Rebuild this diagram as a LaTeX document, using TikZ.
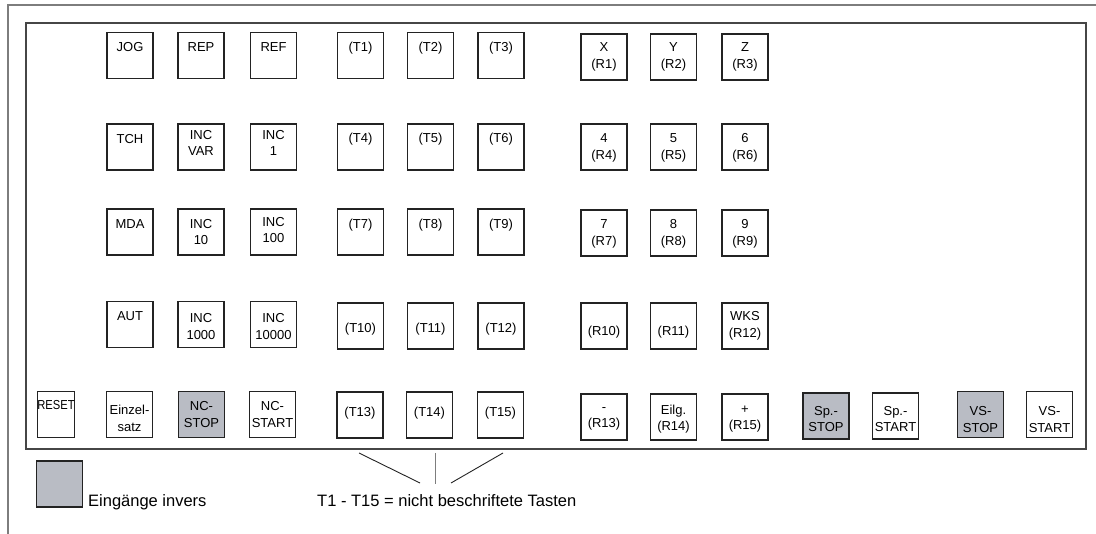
\documentclass[tikz,border=0pt]{standalone}
\usepackage{fontspec}
\setmainfont{Liberation Sans}
\usepackage{xcolor}
\usepackage{graphicx}

\definecolor{invgrau}{RGB}{185,188,196}
\definecolor{kante}{RGB}{35,35,35}
\definecolor{rahmen}{RGB}{70,70,70}
\definecolor{aussen}{RGB}{125,125,125}

\begin{document}
\begin{tikzpicture}[
  x=1pt, y=-1pt,
  taste/.style={rectangle, draw=kante, line width=1.8pt,
                minimum width=46pt, minimum height=46pt, inner sep=0pt},
  beschr/.style={inner sep=0pt, align=center,
                 font=\fontsize{13}{16.5}\selectfont},
  legende/.style={inner sep=0pt, font=\fontsize{16.5}{20}\selectfont},
  strich/.style={draw=kante, line width=0.9pt},
]
\useasboundingbox (0,0) rectangle (1096,534);

% Rahmen
\draw[aussen, line width=1.5pt] (8,534) -- (8,5) -- (1096,5);
\draw[rahmen, line width=1.3pt] (26,23) rectangle (1086,449);

% Tasten: Name/x/y/Text/Versatz/Fuellung
\foreach \n/\x/\y/\t/\d/\f in {
  jog/130/55.5/JOG/8/white, rep/201/55.5/REP/8/white, ref/273.5/55.5/REF/8/white,
  t1/360.5/55.5/(T1)/7/white, t2/430.5/55.5/(T2)/7/white, t3/501/55.5/(T3)/7/white,
  r1/604/57/{X\\(R1)}/0/white, r2/673.5/57/{Y\\(R2)}/0/white, r3/745/57/{Z\\(R3)}/0/white,
  tch/130/147/TCH/8/white, incvar/201/147/{INC\\VAR}/4/white, inc1/273.5/147/{INC\\1}/4/white,
  t4/360.5/147/(T4)/8/white, t5/430.5/147/(T5)/8/white, t6/501/147/(T6)/8/white,
  r4/604/147/{4\\(R4)}/-1/white, r5/673.5/147/{5\\(R5)}/-1/white, r6/745/147/{6\\(R6)}/-1/white,
  mda/130/232/MDA/8/white, inc10/201/232/{INC\\10}/0/white, inc100/273.5/232/{INC\\100}/2/white,
  t7/360.5/232/(T7)/7/white, t8/430.5/232/(T8)/7/white, t9/501/232/(T9)/7/white,
  r7/604/233/{7\\(R7)}/-1/white, r8/673.5/233/{8\\(R8)}/-1/white, r9/745/233/{9\\(R9)}/-1/white,
  aut/130/324.5/AUT/8/white, inc1000/201/324.5/{INC\\1000}/-2/white,
  inc10000/273.5/324.5/{INC\\10000}/-2/white,
  t10/360.5/326/(T10)/-3/white, t11/430.5/326/(T11)/-3/white, t12/501/326/(T12)/-3/white,
  r10/604/326/(R10)/-6/white, r11/673.5/326/(R11)/-6/white, r12/745/326/{WKS\\(R12)}/0/white,
  einzel/129.5/414.5/{Einzel-\\satz}/-4/white, ncstop/201.5/414.5/{NC-\\STOP}/0/invgrau,
  ncstart/272.5/414.5/{NC-\\START}/0/white,
  t13/360/415/(T13)/2/white, t14/429.5/415/(T14)/2/white, t15/500.5/415/(T15)/2/white,
  r13/604/417/{-\\(R13)}/-2/white, r14/673.5/417/{Eilg.\\(R14)}/-2/white,
  r15/745/417/{+\\(R15)}/-2/white,
  spstop/826/416/{Sp.-\\STOP}/-3/invgrau, spstart/895.5/416/{Sp.-\\START}/-3/white,
  vsstop/980.5/414.5/{VS-\\STOP}/-5/invgrau, vsstart/1049.5/414.5/{VS-\\START}/-5/white}
{
  \node[taste, fill=\f] (\n) at (\x,\y) {};
  \node[beschr] (\n-t) at ([yshift=\d pt]\n.center) {\t};
}
\node[taste, minimum width=37pt] (reset) at (56,414.5) {};
\node[beschr] (reset-t) at ([yshift=9pt]reset.center) {\scalebox{0.86}[1]{RESET}};

% Legende
\node[taste, fill=invgrau] (leg) at (59.5,484) {};
\node[legende, anchor=base west] (leg-t) at (88,507) {Eingänge invers};
\node[legende, anchor=base west] (fuss) at (317,507)
  {T1 - T15 = nicht beschriftete Tasten};

\coordinate (la) at (359,453);
\coordinate (lb) at (420,483);
\coordinate (ma) at (435,453);
\coordinate (mb) at (435,484);
\coordinate (ra) at (503,453);
\coordinate (rb) at (451,483);
\draw[strich] (la) -- (lb);
\draw[strich, draw=aussen] (ma) -- (mb);
\draw[strich] (ra) -- (rb);
\end{tikzpicture}
\end{document}
